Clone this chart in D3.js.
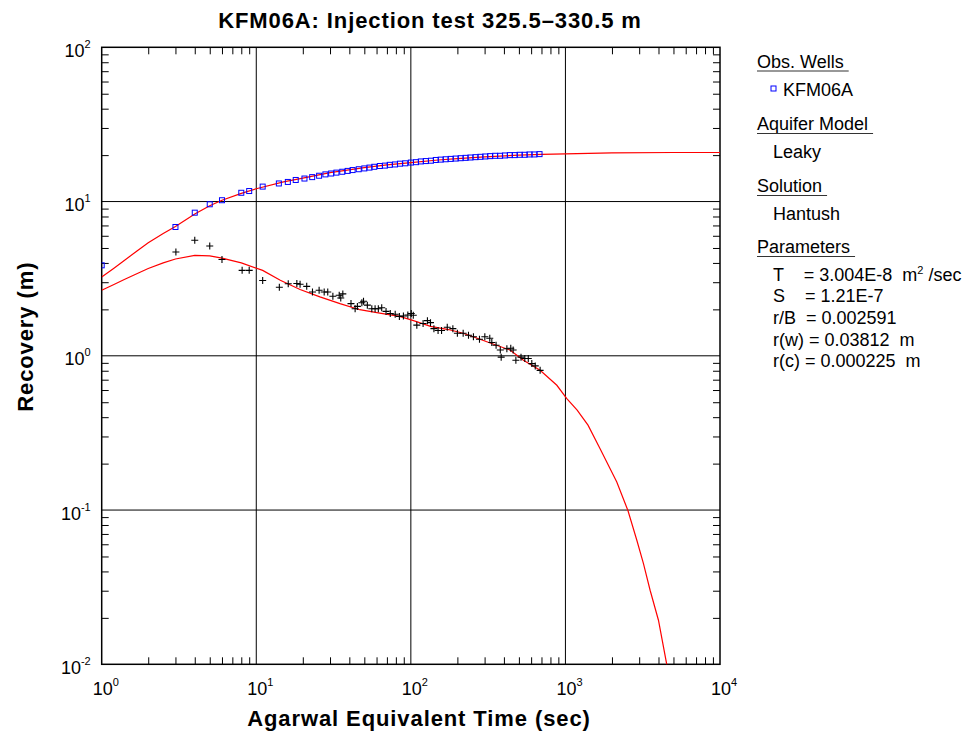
<!DOCTYPE html>
<html>
<head>
<meta charset="utf-8">
<script src="https://cdn.jsdelivr.net/npm/d3@7"></script>
<style>
  body { margin: 0; background: #fff; }
  svg { font-family: "Liberation Sans", Arial, sans-serif; }
  .tick line { stroke: #000; }
  .legend text { white-space: pre; }
</style>
</head>
<body>
<div id="chart-area"></div>
<script>
// observed recovery (blue squares)
const obsTime = [1, 3, 4, 5, 6, 8, 9, 11, 14, 16, 18, 20.5, 23, 25.5, 28, 30.5, 33, 36, 39, 42, 46, 50, 54, 58, 63, 68, 73, 79, 85, 92,
  100, 108, 116, 125, 135, 145, 156, 168, 181, 195, 210, 226, 243, 262, 282, 303, 326, 351, 378, 406, 437, 470, 506, 545, 586, 630, 680];
const obsRecovery = [3.86, 6.84, 8.47, 9.6, 10.2, 11.4, 11.7, 12.5, 13.1, 13.4, 13.8, 14.1, 14.4, 14.7, 15.0, 15.2, 15.4, 15.6, 15.8, 16.0, 16.2, 16.4, 16.6, 16.8, 17.0, 17.1, 17.3, 17.4, 17.6, 17.7,
  17.9, 18.0, 18.2, 18.3, 18.4, 18.6, 18.7, 18.8, 18.9, 19.0, 19.1, 19.2, 19.3, 19.4, 19.5, 19.6, 19.7, 19.8, 19.8, 19.9, 20.0, 20.0, 20.1, 20.1, 20.2, 20.2, 20.3];

// derivative (black crosses)
const derivTime = [3.02, 4.0, 5.0, 6.0, 8.1, 9.0, 11.0, 14.1, 16.1, 18.3, 19.2, 21.2, 23.1, 25.5, 27.5, 29.0, 31.3, 34.4, 35.2, 36.3,
  41.0, 43.6, 45.1, 48.2, 49.4, 52.3, 55.9, 58.7, 61.6, 64.8, 69.1, 73.6, 79.2, 84.3, 89.5, 95.6, 100.6, 103.7, 109.3, 120,
  128, 134, 141, 150, 158, 172, 187, 200, 218, 236, 254, 278, 301, 324, 334, 356, 379, 384, 418, 443, 459, 478, 516, 546, 575, 606, 638, 686];
const derivValue = [4.71, 5.61, 5.15, 4.21, 3.58, 3.58, 3.08, 2.78, 2.93, 2.94, 2.91, 2.82, 2.59, 2.66, 2.59, 2.59, 2.43, 2.47, 2.37, 2.52,
  2.18, 2.02, 2.09, 2.21, 2.26, 2.13, 2.02, 2.02, 2.02, 2.05, 1.94, 1.88, 1.86, 1.80, 1.81, 1.84, 1.88, 1.83, 1.58, 1.62,
  1.69, 1.64, 1.50, 1.46, 1.46, 1.53, 1.50, 1.40, 1.40, 1.36, 1.33, 1.28, 1.33, 1.30, 1.22, 1.17, 1.09, 0.98, 1.11, 1.12, 1.09, 0.935, 0.98, 0.96, 0.96, 0.89, 0.86, 0.805];

// Hantush fitted curves (red)
const fitTime = [1, 1.2, 1.4, 1.7, 2, 2.5, 3, 4, 5, 6, 8, 10, 15, 20, 30, 50, 70, 100, 150, 200, 300, 500, 700, 1000, 2000, 5000, 10000];
const fitRecovery = [3.24, 3.7, 4.15, 4.8, 5.4, 6.2, 6.9, 8.3, 9.4, 10.2, 11.3, 12.1, 13.4, 14.2, 15.4, 16.6, 17.3, 17.9, 18.6, 19.0, 19.5, 20.0, 20.2, 20.4, 20.7, 20.8, 20.8];
const fitDerivTime = [1, 1.2, 1.4, 1.7, 2, 2.5, 3, 4, 5, 6, 8, 11, 14.3, 19.2, 25.8, 34.8, 46.7, 62.9, 84.6, 104, 134, 175, 218, 280, 326, 438, 535, 686, 880,
  1021, 1191, 1400, 1676, 2149, 2534, 2897, 3198, 3531, 3998, 4530];
const fitDeriv = [2.66, 2.9, 3.12, 3.42, 3.68, 4.0, 4.24, 4.48, 4.45, 4.3, 4.0, 3.58, 3.09, 2.69, 2.41, 2.18, 1.99, 1.89, 1.80, 1.69, 1.55, 1.48, 1.40, 1.28, 1.21, 1.09, 0.935, 0.805, 0.644,
  0.528, 0.444, 0.355, 0.25, 0.152, 0.0996, 0.0637, 0.045, 0.0302, 0.0193, 0.0099];

const xDecades = [1, 10, 100, 1000, 10000];
const yDecades = [0.01, 0.1, 1, 10, 100];

const legendRows = [
  { text: "Obs. Wells", head: true },
  { text: "KFM06A", head: false, marker: true },
  { text: "Aquifer Model", head: true },
  { text: "Leaky", head: false },
  { text: "Solution", head: true },
  { text: "Hantush", head: false },
  { text: "Parameters", head: true }
];
const paramRows = [
  ["T    = 3.004E-8  m", "2", " /sec"],
  ["S    = 1.21E-7"],
  ["r/B  = 0.002591"],
  ["r(w) = 0.03812  m"],
  ["r(c) = 0.000225  m"]
];

const margin = { left: 101.7, top: 47.3, right: 256, bottom: 71.7 };
const width = 976 - margin.left - margin.right;
const height = 736 - margin.top - margin.bottom;

const svg = d3.select("#chart-area").append("svg")
  .attr("width", 976)
  .attr("height", 736);

const g = svg.append("g")
  .attr("transform", "translate(" + margin.left + "," + margin.top + ")");

const x = d3.scaleLog().domain([1, 10000]).range([0, width]);
const y = d3.scaleLog().domain([0.01, 100]).range([height, 0]);

// minor ticks 2..9 in every decade
function minors(decades) {
  let out = [];
  decades.slice(0, -1).forEach(function(d) {
    for (let k = 2; k <= 9; k++) out.push(d * k);
  });
  return out;
}

g.append("defs").append("clipPath").attr("id", "clip")
  .append("rect").attr("width", width).attr("height", height);

// major grid
g.selectAll(".vgrid").data(xDecades.slice(1, -1)).enter().append("line")
  .attr("x1", d => x(d)).attr("x2", d => x(d))
  .attr("y1", 0).attr("y2", height)
  .attr("stroke", "#000").attr("stroke-width", 1);
g.selectAll(".hgrid").data(yDecades.slice(1, -1)).enter().append("line")
  .attr("x1", 0).attr("x2", width)
  .attr("y1", d => y(d)).attr("y2", d => y(d))
  .attr("stroke", "#000").attr("stroke-width", 1);

// inward minor ticks on all four sides
const tickLen = 7;
const axes = [
  { call: d3.axisBottom(x), t: "translate(0," + height + ")", vals: minors(xDecades) },
  { call: d3.axisTop(x), t: "translate(0,0)", vals: minors(xDecades) },
  { call: d3.axisLeft(y), t: "translate(0,0)", vals: minors(yDecades) },
  { call: d3.axisRight(y), t: "translate(" + width + ",0)", vals: minors(yDecades) }
];
axes.forEach(function(a) {
  const ax = g.append("g").attr("transform", a.t)
    .call(a.call.tickValues(a.vals).tickSize(-tickLen).tickFormat(""));
  ax.select(".domain").remove();
});

// frame
g.append("rect")
  .attr("width", width).attr("height", height)
  .attr("fill", "none").attr("stroke", "#000").attr("stroke-width", 1.5);

// tick labels
function expLabel(sel, v) {
  sel.append("tspan").text("10");
  sel.append("tspan").attr("dy", -9).attr("font-size", "11px").text(Math.round(Math.log10(v)));
}
xDecades.forEach(function(v) {
  const t = g.append("text")
    .attr("x", x(v) + 1 - 10).attr("y", height + 31)
    .attr("font-size", "18px").attr("fill", "#000");
  expLabel(t, v);
});
yDecades.forEach(function(v) {
  const t = g.append("text")
    .attr("x", -11).attr("y", y(v) + 9.5)
    .attr("text-anchor", "end")
    .attr("font-size", "18px").attr("fill", "#000");
  expLabel(t, v);
});

// fitted curves
const line = d3.line().x(d => x(d[0])).y(d => y(d[1]));
const plot = g.append("g").attr("clip-path", "url(#clip)");

plot.append("path")
  .datum(fitTime.map((t, i) => [t, fitRecovery[i]]))
  .attr("d", line).attr("fill", "none").attr("stroke", "#ff0000").attr("stroke-width", 1.2);
plot.append("path")
  .datum(fitDerivTime.map((t, i) => [t, fitDeriv[i]]))
  .attr("d", line).attr("fill", "none").attr("stroke", "#ff0000").attr("stroke-width", 1.2);

// observed squares
plot.selectAll(".obs").data(obsTime.map((t, i) => [t, obsRecovery[i]])).enter().append("rect")
  .attr("x", d => x(d[0]) - 2.5).attr("y", d => y(d[1]) - 2.5)
  .attr("width", 5).attr("height", 5)
  .attr("fill", "none").attr("stroke", "#0000ff").attr("stroke-width", 1);

// derivative crosses
plot.selectAll(".der").data(derivTime.map((t, i) => [t, derivValue[i]])).enter().append("path")
  .attr("d", d => {
    const cx = x(d[0]), cy = y(d[1]);
    return "M" + (cx - 3.5) + "," + cy + "H" + (cx + 3.5) + "M" + cx + "," + (cy - 3.5) + "V" + (cy + 3.5);
  })
  .attr("stroke", "#000").attr("stroke-width", 1.1).attr("fill", "none");

// titles
svg.append("text")
  .attr("x", 430).attr("y", 28.3)
  .attr("text-anchor", "middle")
  .attr("font-size", "22px").attr("font-weight", "bold")
  .attr("letter-spacing", "0.9px")
  .text("KFM06A: Injection test 325.5\u2013330.5 m");

svg.append("text")
  .attr("x", 419).attr("y", 726)
  .attr("text-anchor", "middle")
  .attr("font-size", "22px").attr("font-weight", "bold")
  .attr("letter-spacing", "0.9px")
  .text("Agarwal Equivalent Time (sec)");

svg.append("text")
  .attr("transform", "rotate(-90)")
  .attr("x", -336.7).attr("y", 33)
  .attr("text-anchor", "middle")
  .attr("font-size", "22px").attr("font-weight", "bold")
  .attr("letter-spacing", "0.9px")
  .text("Recovery (m)");

// legend
const legend = svg.append("g").attr("class", "legend");
const rowY = [67.5, 96, 130, 158, 192, 220, 253];
legendRows.forEach(function(r, i) {
  const tx = r.head ? 757 : (r.marker ? 783 : 773);
  const t = legend.append("text")
    .attr("x", tx).attr("y", rowY[i])
    .attr("font-size", "18px").attr("fill", "#000")
    .text(r.text);
  if (r.head) {
    const w = t.node().getComputedTextLength();
    legend.append("line")
      .attr("x1", tx).attr("x2", tx + w + 5)
      .attr("y1", rowY[i] + 3.5).attr("y2", rowY[i] + 3.5)
      .attr("stroke", "#333").attr("stroke-width", 1.2);
  }
  if (r.marker) {
    legend.append("rect")
      .attr("x", 771).attr("y", 86)
      .attr("width", 5).attr("height", 5)
      .attr("fill", "none").attr("stroke", "#0000ff").attr("stroke-width", 1);
  }
});
paramRows.forEach(function(p, i) {
  const t = legend.append("text")
    .attr("x", 773).attr("y", 280.5 + i * 21.7)
    .attr("font-size", "18px").attr("fill", "#000");
  t.append("tspan").text(p[0]);
  if (p.length > 1) {
    t.append("tspan").attr("dy", -7).attr("font-size", "11px").text(p[1]);
    t.append("tspan").attr("dy", 7).text(p[2]);
  }
});
</script>
</body>
</html>
